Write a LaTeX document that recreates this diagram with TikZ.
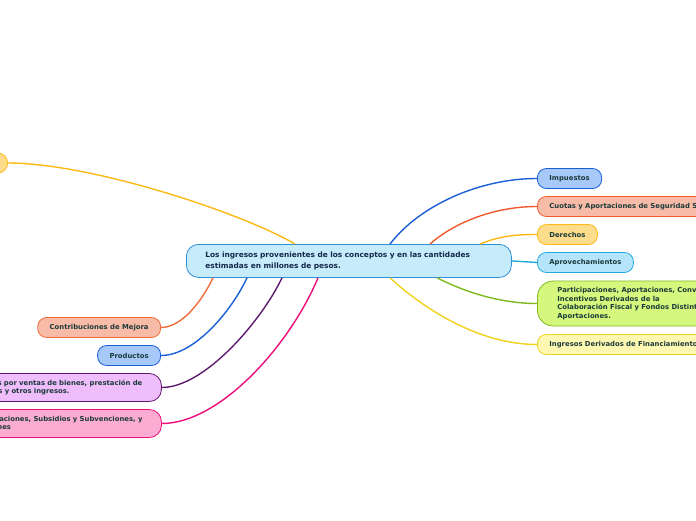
\documentclass[tikz,border=0pt]{standalone}
\usepackage{fontspec}
\setmainfont{DejaVu Sans}
\usetikzlibrary{calc}
\definecolor{ctrfill}{HTML}{C6EBFB}
\definecolor{ctrdraw}{HTML}{2D8FD5}
\definecolor{ctrtext}{HTML}{14284B}
\definecolor{subtext}{HTML}{1B3A3A}
\definecolor{bluefill}{HTML}{A6C9FA}
\definecolor{bluedraw}{HTML}{1B5FD6}
\definecolor{salmfill}{HTML}{F8BBA8}
\definecolor{salmdraw}{HTML}{F15A2B}
\definecolor{orngdraw}{HTML}{F26B3A}
\definecolor{yelfill}{HTML}{FDDC8C}
\definecolor{yeldraw}{HTML}{FCB913}
\definecolor{cyanfill}{HTML}{B5E5FB}
\definecolor{cyandraw}{HTML}{20A9E1}
\definecolor{grnfill}{HTML}{D5F77D}
\definecolor{grndraw}{HTML}{80B91D}
\definecolor{lyelfill}{HTML}{FEF8B3}
\definecolor{lyeldraw}{HTML}{F0D21C}
\definecolor{purfill}{HTML}{EFBDFB}
\definecolor{purdraw}{HTML}{5E1A6E}
\definecolor{pinkfill}{HTML}{FCACD3}
\definecolor{pinkdraw}{HTML}{EC0C7A}
\begin{document}
\begin{tikzpicture}[x=1pt,y=-1pt,
  ctr/.style={draw=ctrdraw, fill=ctrfill, line width=0.8pt, rounded corners=12pt,
    text width=287pt, inner xsep=19pt, minimum height=33pt, align=left, text=ctrtext,
    font=\fontsize{7.4}{11}\selectfont\bfseries},
  sub/.style={line width=0.8pt, rounded corners=9pt, minimum height=20pt,
    inner xsep=12pt, inner ysep=2pt, text=subtext,
    font=\fontsize{6.85}{8.5}\selectfont\bfseries},
  link/.style={line width=1.4pt}]
\useasboundingbox (0,0) rectangle (696,520);

% central topic
\node[ctr, anchor=north west] (c) at (186,244)
  {Los ingresos provenientes de los conceptos y en las cantidades\\estimadas en millones de pesos.};

% right side
\node[sub, draw=bluedraw, fill=bluefill, anchor=west] (imp) at (537,178.5) {Impuestos};
\node[sub, draw=salmdraw, fill=salmfill, anchor=west] (cuo) at (537,206.5) {Cuotas y Aportaciones de Seguridad Social};
\node[sub, draw=yeldraw, fill=yelfill, anchor=west] (der) at (537,234.5) {Derechos};
\node[sub, draw=cyandraw, fill=cyanfill, anchor=west] (apr) at (537,262.5) {Aprovechamientos};
\node[sub, draw=grndraw, fill=grnfill, anchor=west, rounded corners=16pt, inner xsep=20pt,
  minimum height=45pt, align=left, font=\fontsize{6.85}{8.5}\selectfont\bfseries] (par) at (537,303.5)
  {Participaciones, Aportaciones, Convenios,\\Incentivos Derivados de la\\Colaboración Fiscal y Fondos Distintos de\\Aportaciones.};
\node[sub, draw=lyeldraw, fill=lyelfill, anchor=west] (fin) at (537,344.5) {Ingresos Derivados de Financiamiento};

% left side
\node[sub, draw=yeldraw, fill=yelfill, anchor=east, minimum width=30pt, rounded corners=10pt] (tl) at (8,163) {};
\node[sub, draw=orngdraw, fill=salmfill, anchor=east] (con) at (161,327.5) {Contribuciones de Mejora};
\node[sub, draw=bluedraw, fill=bluefill, anchor=east] (pro) at (161,355.5) {Productos};
\node[sub, draw=purdraw, fill=purfill, anchor=west, text width=181pt, align=left,
  minimum height=28pt, rounded corners=12pt, font=\fontsize{6.85}{8}\selectfont\bfseries] (ven) at (-44,387.5)
  {Ingresos por ventas de bienes, prestación de\\servicios y otros ingresos.};
\node[sub, draw=pinkdraw, fill=pinkfill, anchor=west, text width=233pt, align=left,
  minimum height=28pt, rounded corners=12pt, font=\fontsize{6.85}{8.4}\selectfont\bfseries] (tra) at (-96,423.5)
  {Transferencias, Asignaciones, Subsidios y Subvenciones, y\\Pensiones y Jubilaciones};

% anchor points on the central topic
\coordinate (t1) at ([xshift=109pt]c.north west);
\coordinate (t2) at ([xshift=204pt]c.north west);
\coordinate (t3) at ([xshift=244pt]c.north west);
\coordinate (t4) at ([xshift=294pt]c.north west);
\coordinate (b1) at ([xshift=27pt]c.south west);
\coordinate (b2) at ([xshift=61pt]c.south west);
\coordinate (b3) at ([xshift=96pt]c.south west);
\coordinate (b4) at ([xshift=132pt]c.south west);
\coordinate (b5) at ([xshift=204pt]c.south west);
\coordinate (b6) at ([xshift=251pt]c.south west);

% connectors
\draw[link, bluedraw] (t2) .. controls (420,205) and (480,178.5) .. (imp.west);
\draw[link, salmdraw] (t3) .. controls (455,222) and (495,206.5) .. (cuo.west);
\draw[link, yeldraw] (t4) .. controls (500,236) and (515,234.5) .. (der.west);
\draw[link, cyandraw] (c.east) -- (apr.west);
\draw[link, grndraw] (b6) .. controls (465,292) and (500,303.5) .. (par.west);
\draw[link, lyeldraw] (b5) .. controls (425,310) and (480,344.5) .. (fin.west);
\draw[link, yeldraw] (t1) .. controls (240,212) and (90,163) .. (tl.east);
\draw[link, orngdraw] (b1) .. controls (200,305) and (180,327.5) .. (con.east);
\draw[link, bluedraw] (b2) .. controls (232,310) and (195,355.5) .. (pro.east);
\draw[link, purdraw] (b3) .. controls (262,320) and (205,387.5) .. (ven.east);
\draw[link, pinkdraw] (b4) .. controls (290,345) and (220,423.5) .. (tra.east);
\end{tikzpicture}
\end{document}
